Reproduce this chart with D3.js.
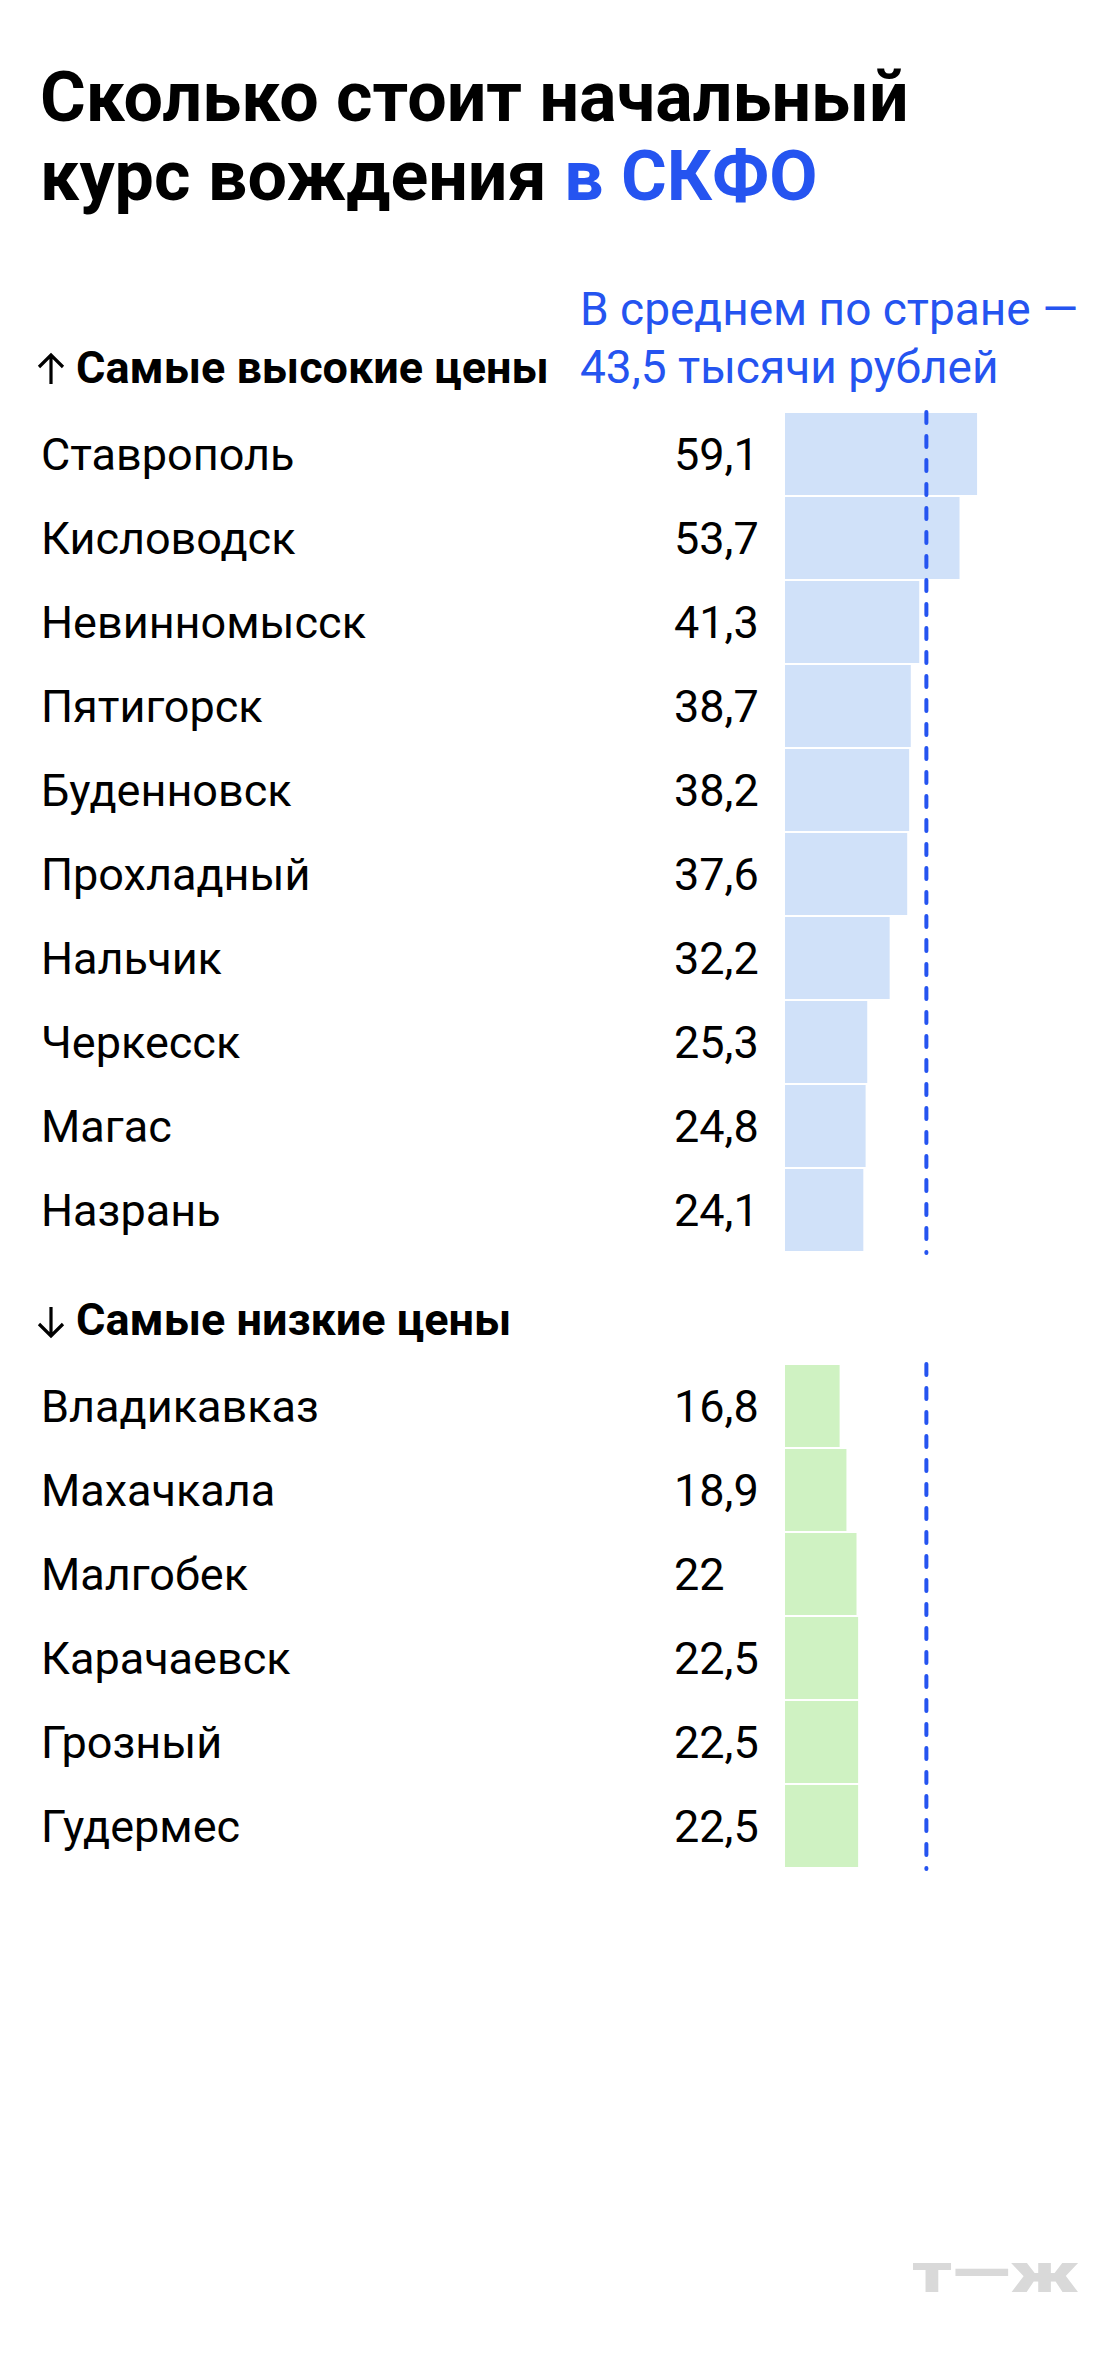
<!DOCTYPE html>
<html>
<head>
<meta charset="utf-8">
<script src="https://cdn.jsdelivr.net/npm/d3@7"></script>
<style>
  html, body { margin: 0; padding: 0; background: #fff; }
  svg text { font-family: Roboto, "Noto Sans", sans-serif; }
</style>
</head>
<body>
<div id="chart"></div>
<script>
// data
const highCities = ["Ставрополь", "Кисловодск", "Невинномысск", "Пятигорск", "Буденновск",
                    "Прохладный", "Нальчик", "Черкесск", "Магас", "Назрань"];
const highValues = [59.1, 53.7, 41.3, 38.7, 38.2, 37.6, 32.2, 25.3, 24.8, 24.1];
const lowCities = ["Владикавказ", "Махачкала", "Малгобек", "Карачаевск", "Грозный", "Гудермес"];
const lowValues = [16.8, 18.9, 22, 22.5, 22.5, 22.5];
const avgValue = 43.5;

const width = 1120, height = 2372;
const blue = "#2554f0";

const ru = d3.formatLocale({decimal: ",", thousands: " ", grouping: [3], currency: ["", ""]});
const fmt = ru.format("~g");

const svg = d3.select("#chart").append("svg")
  .attr("width", width)
  .attr("height", height)
  .attr("viewBox", `0 0 ${width} ${height}`);

svg.append("rect").attr("width", width).attr("height", height).attr("fill", "#fff");

// title
const title = svg.append("text")
  .attr("x", 41)
  .attr("font-size", 70)
  .attr("font-weight", 700)
  .attr("fill", "#000");
title.append("tspan").attr("x", 40).attr("y", 121).text("Сколько стоит начальный");
title.append("tspan").attr("x", 40).attr("y", 200).text("курс вождения ");
title.append("tspan").attr("fill", blue).text("в СКФО");

// average note
const note = svg.append("text")
  .attr("font-size", 46)
  .attr("fill", blue);
note.append("tspan").attr("x", 580).attr("y", 325).text("В среднем по стране —");
note.append("tspan").attr("x", 580).attr("y", 383).text("43,5 тысячи рублей");

// shared x scale (thousand rubles -> px)
const barX = 785;
const x = d3.scaleLinear().domain([0, 60]).range([0, 195]);

function drawBlock(cities, values, top, fill, heading, up) {
  const n = cities.length;
  const y = d3.scaleBand()
    .domain(cities)
    .range([top, top + 84 * n - 2])
    .paddingInner(2 / 84);

  // heading with arrow
  const base = top - 30;
  const tip = up ? base - 28 : base + 1,
        tail = up ? base + 1 : base - 28,
        wing = up ? tip + 12 : tip - 12;
  svg.append("path")
    .attr("d", `M51,${tail}V${tip}M39,${wing}L51,${tip}L63,${wing}`)
    .attr("fill", "none")
    .attr("stroke", "#000")
    .attr("stroke-width", 3.2);
  svg.append("text")
    .attr("x", 76).attr("y", base)
    .attr("font-size", 45)
    .attr("font-weight", 700)
    .attr("fill", "#000")
    .text(heading);

  const g = svg.append("g");
  const rows = cities.map((c, i) => ({city: c, value: values[i]}));

  g.selectAll(".bar")
    .data(rows)
    .enter().append("rect")
    .attr("class", "bar")
    .attr("x", barX)
    .attr("y", d => y(d.city))
    .attr("width", d => x(d.value))
    .attr("height", y.bandwidth())
    .attr("fill", fill);

  g.selectAll(".name")
    .data(rows)
    .enter().append("text")
    .attr("class", "name")
    .attr("x", 41)
    .attr("y", d => y(d.city) + y.bandwidth() / 2)
    .attr("dy", "0.35em")
    .attr("font-size", 45)
    .attr("fill", "#000")
    .text(d => d.city);

  g.selectAll(".val")
    .data(rows)
    .enter().append("text")
    .attr("class", "val")
    .attr("x", 674)
    .attr("y", d => y(d.city) + y.bandwidth() / 2)
    .attr("dy", "0.35em")
    .attr("font-size", 45)
    .attr("fill", "#000")
    .text(d => fmt(d.value));

  // national average line
  g.append("line")
    .attr("x1", barX + x(avgValue)).attr("x2", barX + x(avgValue))
    .attr("y1", top - 1).attr("y2", y.range()[1] + 2)
    .attr("stroke", blue)
    .attr("stroke-width", 4)
    .attr("stroke-linecap", "round")
    .attr("stroke-dasharray", "11 13");
}

drawBlock(highCities, highValues, 413, "#d0e1f9", "Самые высокие цены", true);
drawBlock(lowCities, lowValues, 1365, "#cff2c2", "Самые низкие цены", false);

// logo
svg.append("text")
  .attr("x", 912).attr("y", 2292)
  .attr("font-size", 56)
  .attr("font-weight", 900)
  .attr("fill", "#d9d9d9")
  .attr("textLength", 167)
  .attr("lengthAdjust", "spacingAndGlyphs")
  .text("т—ж");
</script>
</body>
</html>
